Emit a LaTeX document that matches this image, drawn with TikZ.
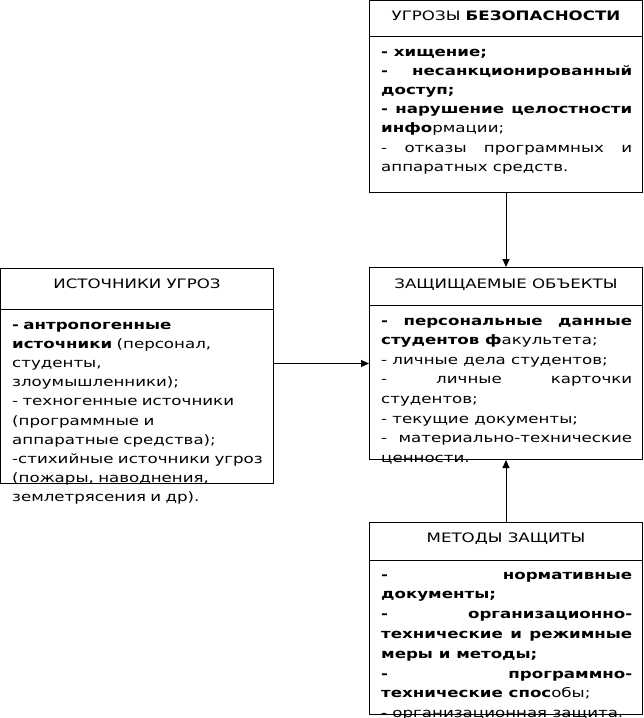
\documentclass[tikz,border=0pt]{standalone}
\usepackage{fontspec}
\setmainfont{DejaVu Sans}[FakeStretch=1.28]
\usepackage{xcolor}
\usetikzlibrary{arrows.meta,positioning}
\definecolor{ink}{HTML}{000000}
\tolerance=10000
\hbadness=10000
\hyphenpenalty=10000
\exhyphenpenalty=10000
\tikzset{
  frame/.style ={draw=ink,line width=1pt,inner sep=0pt,minimum width=273pt},
  rule/.style  ={draw=ink,line width=1pt},
  title/.style ={inner sep=0pt,text height=9pt,text depth=0pt,text=ink},
  list/.style  ={inner sep=0pt,anchor=base west,text width=251pt,align=justify,text=ink},
  flow/.style  ={-{Triangle[length=8pt,width=7pt]},line width=1pt,draw=ink}
}
\begin{document}
\begin{tikzpicture}[font=\fontsize{13}{19.2}\selectfont]
  \useasboundingbox (0,0) rectangle (643pt,-718pt);
  \node[frame,minimum height=192pt,anchor=north west] (obj) at (369pt,-267pt) {};
  \node[frame,minimum height=192pt,above=74pt of obj] (thr) {};
  \node[frame,minimum height=192pt,below=62pt of obj] (def) {};
  \node[frame,minimum height=215pt,below left=1pt and 95pt of obj.north west] (src) {};
  \draw[rule] ([yshift=-36pt]thr.north west) -- ([yshift=-36pt]thr.north east);
  \draw[rule] ([yshift=-41pt]src.north west) -- ([yshift=-41pt]src.north east);
  \draw[rule] ([yshift=-38pt]obj.north west) -- ([yshift=-38pt]obj.north east);
  \draw[rule] ([yshift=-38pt]def.north west) -- ([yshift=-38pt]def.north east);
  \node[title,below=11pt of thr.north] (thrtitle) {УГРОЗЫ \textbf{БЕЗОПАСНОСТИ}};
  \node[title,below=11pt of src.north] (srctitle) {ИСТОЧНИКИ УГРОЗ};
  \node[title,below=12pt of obj.north] (objtitle) {ЗАЩИЩАЕМЫЕ ОБЪЕКТЫ};
  \node[title,below=11pt of def.north] (deftitle) {МЕТОДЫ ЗАЩИТЫ};
  \node[list] (thrlist) at ([xshift=12pt,yshift=-56pt]thr.north west) {%
    \textbf{- хищение;}\par
    \textbf{- несанкционированный\linebreak доступ;}\par
    \textbf{- нарушение целостности\linebreak инфо}рмации;\par
    - отказы программных и\linebreak аппаратных средств.};
  \node[list,text width=262pt,align=left] (srclist) at ([xshift=12pt,yshift=-61pt]src.north west) {%
    \textbf{- антропогенные\\ источники} (персонал,\\ студенты,\\ злоумышленники);\\
    - техногенные источники\\ (программные и\\ аппаратные средства);\\
    -стихийные источники угроз\\ (пожары, наводнения,\\ землетрясения и др).};
  \node[list,font=\fontsize{13}{19.6}\selectfont] (objlist) at ([xshift=12pt,yshift=-58pt]obj.north west) {%
    \textbf{- персональные данные\linebreak студентов ф}акультета;\par
    - личные дела студентов;\par
    - личные карточки\linebreak студентов;\par
    - текущие документы;\par
    - материально-технические\linebreak ценности.};
  \node[list,font=\fontsize{13}{19.8}\selectfont] (deflist) at ([xshift=12pt,yshift=-57pt]def.north west) {%
    \textbf{- нормативные\linebreak документы;}\par
    \textbf{- организационно-\linebreak технические и режимные\linebreak меры и методы;}\par
    \textbf{- программно-\linebreak технические спос}обы;\par
    - организационная защита.};
  \draw[flow] (thr) -- (obj);
  \draw[flow] (def) -- (obj);
  \draw[flow] (src.east |- obj.west) -- (obj.west);
\end{tikzpicture}
\end{document}
